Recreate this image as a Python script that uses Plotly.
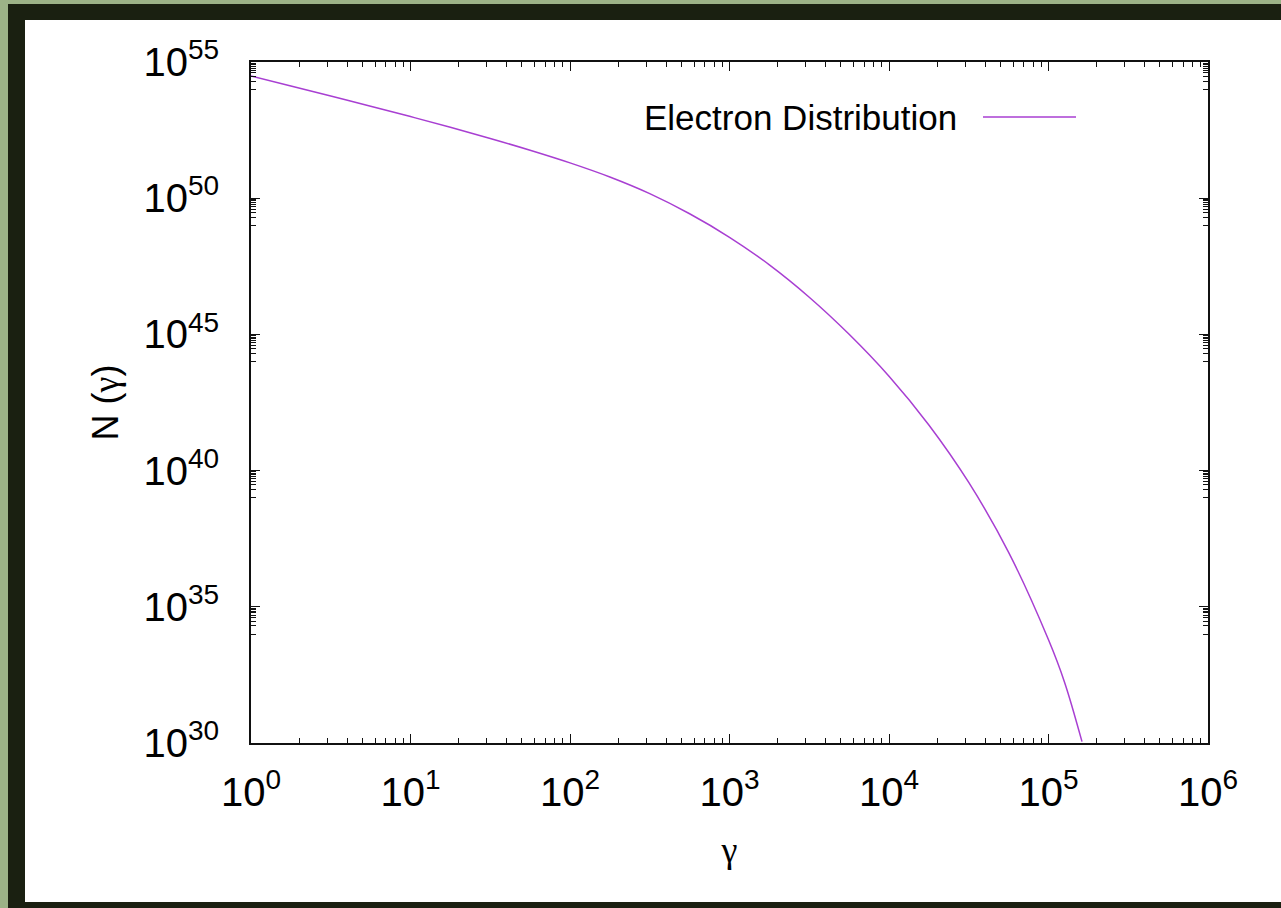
import plotly.graph_objects as go

# Electron distribution N(gamma), read every quarter decade along the curve
gamma = [1, 1.778, 3.162, 5.623, 10, 17.78, 31.62, 56.23, 100, 177.8, 316.2, 562.3,
         1000, 1778, 3162, 5623, 10000, 17780, 31620, 56230, 100000, 125900, 162200]
n_gamma = [3.06e54, 1.32e54, 5.65e53, 2.39e53, 9.91e52, 4.02e52, 1.56e52, 5.77e51,
           1.98e51, 6.00e50, 1.47e50, 2.68e49, 3.67e48, 3.57e47, 2.32e46, 1.01e45,
           2.92e43, 4.75e41, 3.67e39, 1.00e37, 6.15e33, 1.75e32, 1.12e30]

x_tick_vals = [1e0, 1e1, 1e2, 1e3, 1e4, 1e5, 1e6]
x_tick_text = ["10<sup>0</sup>", "10<sup>1</sup>", "10<sup>2</sup>", "10<sup>3</sup>",
               "10<sup>4</sup>", "10<sup>5</sup>", "10<sup>6</sup>"]
y_tick_vals = [1e30, 1e35, 1e40, 1e45, 1e50, 1e55]
y_tick_text = ["10<sup>30</sup>", "10<sup>35</sup>", "10<sup>40</sup>",
               "10<sup>45</sup>", "10<sup>50</sup>", "10<sup>55</sup>"]

series_name = "Electron Distribution"
GAMMA = '<span style="font-family:Liberation Serif">γ</span>'
x_title = GAMMA
y_title = "N (" + GAMMA + ")"

# page geometry (pixels)
W, H = 1281, 908
L, R, T, B = 251, 73, 62, 165
PW, PH = W - L - R, H - T - B


def px(x):
    return (x - L) / PW


def py(y):
    return 1 - (y - T) / PH


# gnuplot-style minor ticks
x_minor = [k * 10 ** d for d in range(0, 6) for k in range(2, 10)]
y_minor = [k * 10.0 ** (m - 1) for m in range(35, 56, 5) for k in range(1, 10)]

LINE_COLOR = "#a83fd2"
FONT = "Liberation Sans, Arial, Helvetica, sans-serif"

fig = go.Figure()
fig.add_trace(go.Scatter(
    x=gamma, y=n_gamma, mode="lines", name=series_name,
    line=dict(color=LINE_COLOR, width=1.5, shape="spline", smoothing=1.0, simplify=False),
    showlegend=False,
))

axis_common = dict(
    type="log", showgrid=False, zeroline=False,
    showline=True, linecolor="#111111", linewidth=1.6, mirror="allticks",
    ticks="inside", ticklen=9, tickwidth=1.2, tickcolor="#111111",
    tickmode="array",
    tickfont=dict(family=FONT, size=40, color="black"),
)

fig.update_xaxes(
    **axis_common, range=[0, 6],
    tickvals=x_tick_vals, ticktext=x_tick_text,
    ticklabelstandoff=13,
    minor=dict(tickmode="array", tickvals=x_minor, ticks="inside", ticklen=5,
               tickwidth=1, tickcolor="#111111", showgrid=False),
    title=dict(text=x_title, font=dict(family=FONT, size=36, color="black"), standoff=24),
)
fig.update_yaxes(
    **axis_common, range=[30, 55],
    tickvals=y_tick_vals, ticktext=y_tick_text,
    ticklabelstandoff=22,
    minor=dict(tickmode="array", tickvals=y_minor, ticks="inside", ticklen=5,
               tickwidth=1, tickcolor="#111111", showgrid=False),
    title=dict(text=y_title, font=dict(family=FONT, size=36, color="black"), standoff=14),
)

shapes = [
    # light green outer strips
    dict(type="rect", xref="paper", yref="paper", x0=px(-10), x1=px(8), y0=py(H + 10), y1=py(-10),
         fillcolor="#9cb287", line=dict(width=0), layer="below"),
    dict(type="rect", xref="paper", yref="paper", x0=px(-10), x1=px(W + 10), y0=py(4), y1=py(-10),
         fillcolor="#9cb287", line=dict(width=0), layer="below"),
    # white page panel
    dict(type="rect", xref="paper", yref="paper", x0=px(25), x1=px(W + 10), y0=py(902), y1=py(20),
         fillcolor="white", line=dict(width=0), layer="below"),
    # legend key line
    dict(type="line", xref="paper", yref="paper", x0=px(983), x1=px(1076), y0=py(117), y1=py(117),
         line=dict(color=LINE_COLOR, width=1.5)),
]

fig.update_layout(
    width=W, height=H,
    margin=dict(l=L, r=R, t=T, b=B, pad=0),
    paper_bgcolor="#1a2011",
    plot_bgcolor="white",
    font=dict(family=FONT, color="black"),
    shapes=shapes,
    annotations=[dict(
        text=series_name, xref="paper", yref="paper", x=px(959), y=py(118),
        xanchor="right", yanchor="middle", showarrow=False,
        font=dict(family=FONT, size=35, color="black"),
    )],
)

fig.write_html("out.html")
